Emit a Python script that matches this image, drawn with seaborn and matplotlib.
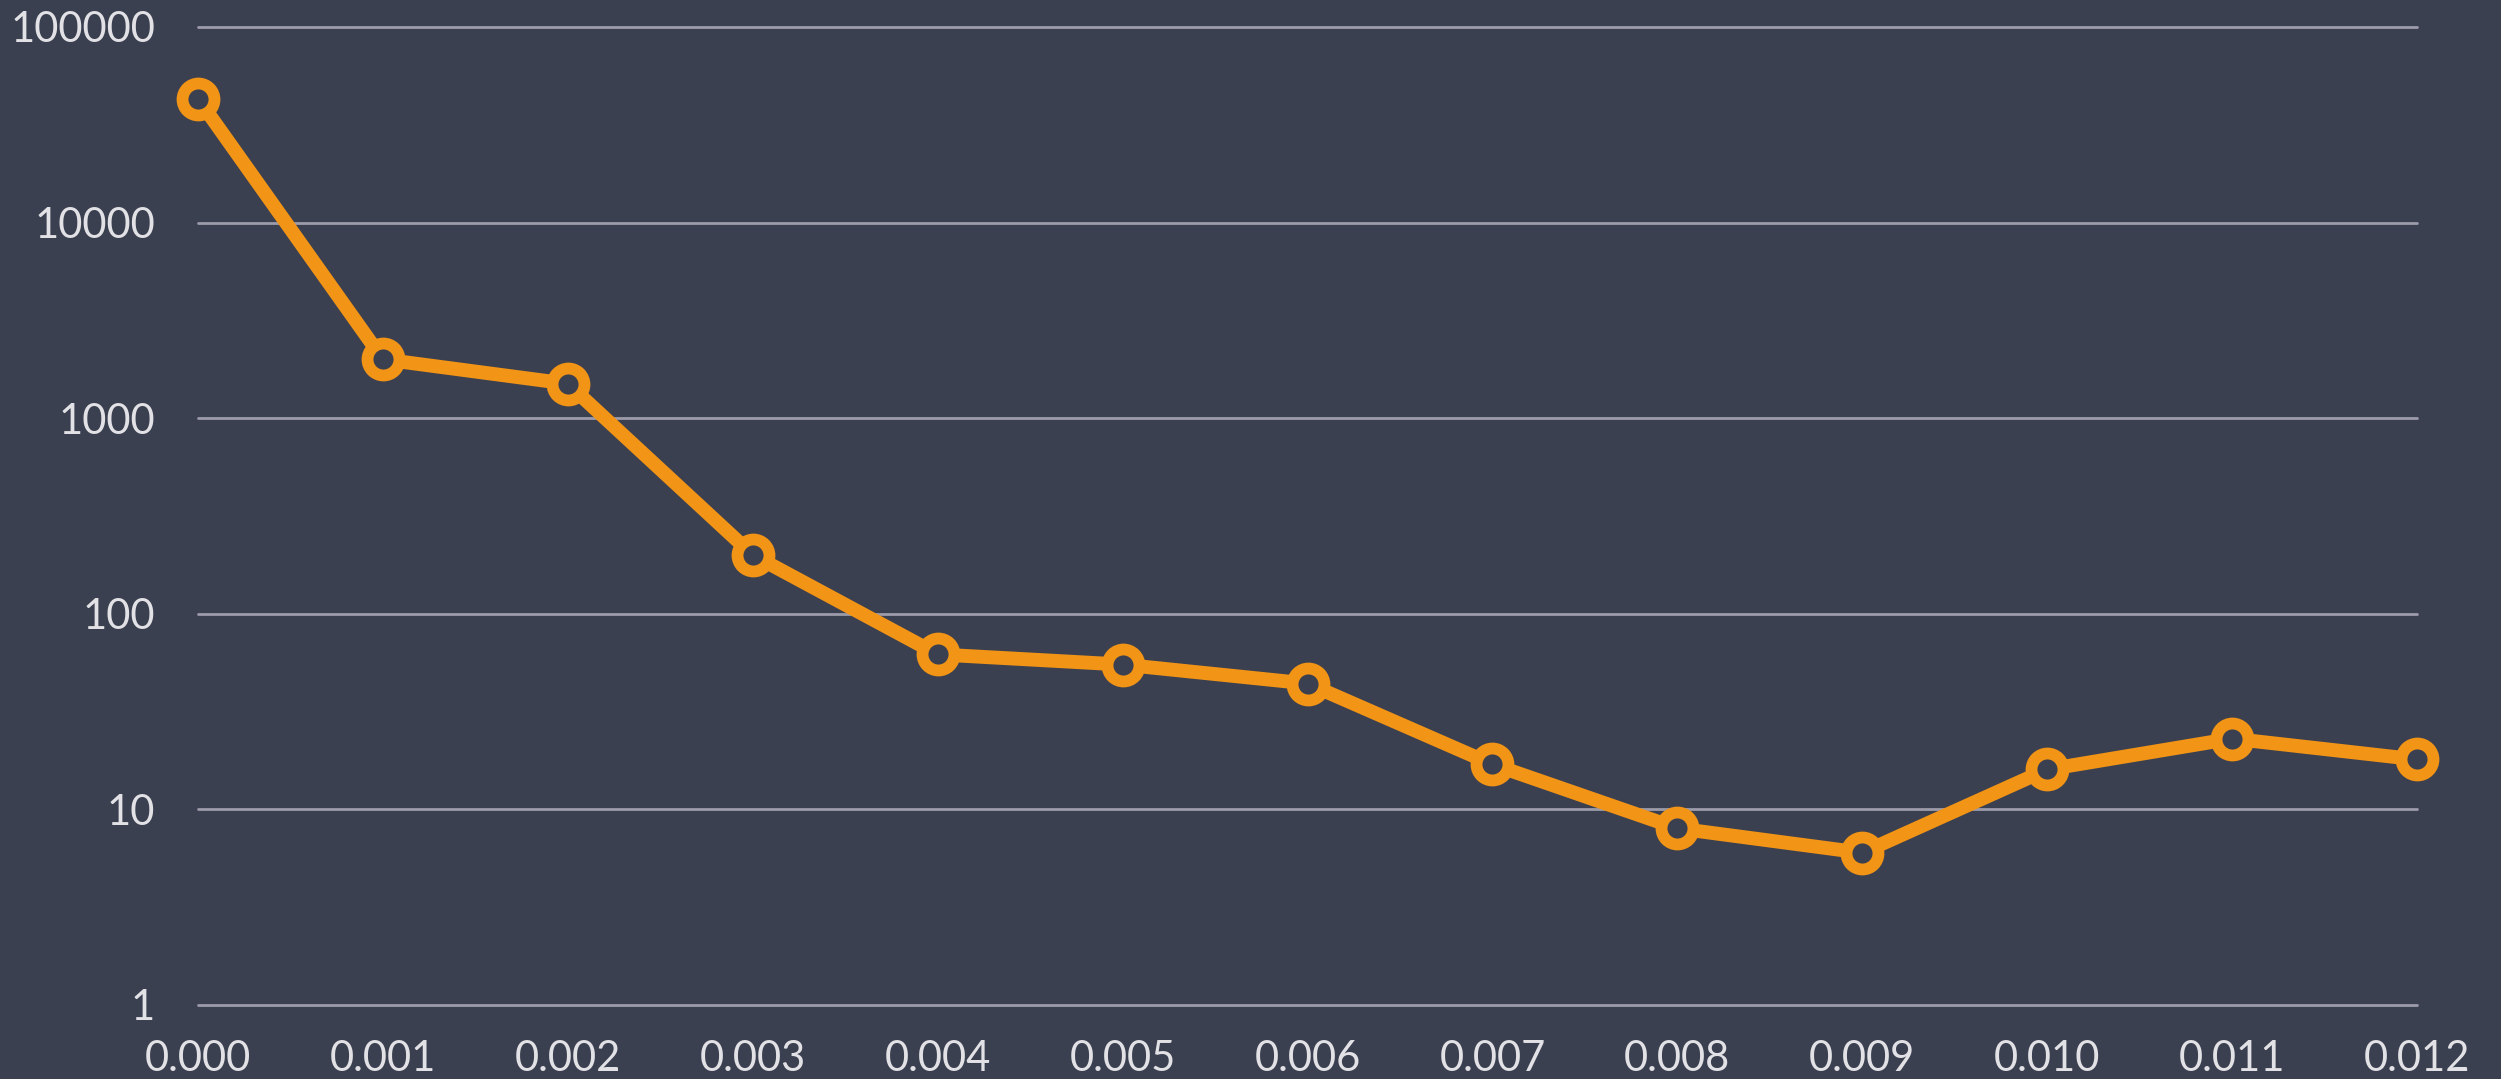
import matplotlib
matplotlib.use("Agg")
import matplotlib.pyplot as plt
import seaborn as sns
import numpy as np

# data
x_vals = [0.000, 0.001, 0.002, 0.003, 0.004, 0.005, 0.006,
          0.007, 0.008, 0.009, 0.010, 0.011, 0.012]
y_vals = [43000, 2000, 1500, 200, 62, 55, 44, 17, 8, 6, 16, 23, 18]
x_ticks = x_vals
x_tick_labels = [f"{v:.3f}" for v in x_vals]
y_ticks = [1, 10, 100, 1000, 10000, 100000]
y_tick_labels = ["1", "10", "100", "1000", "10000", "100000"]

BG = "#3b4050"
ORANGE = "#f29415"
GRID = "#9c9baa"
TEXT = "#e2e2e6"

sns.set_style("dark")
plt.rcParams["font.family"] = ["Lato", "DejaVu Sans"]

fig = plt.figure(figsize=(25.01, 10.79), dpi=100, facecolor=BG)
ax = fig.add_axes([198 / 2501, 1 - 1005 / 1079, (2417 - 198) / 2501, (1005 - 27) / 1079])
ax.set_facecolor(BG)

sns.lineplot(
    x=x_vals,
    y=y_vals,
    ax=ax,
    color=ORANGE,
    linewidth=10,
    marker="o",
    markersize=23,
    markerfacecolor=BG,
    markeredgecolor=ORANGE,
    markeredgewidth=8.5,
    clip_on=False,
    zorder=5,
)

ax.set_yscale("log")
ax.set_ylim(1, 100000)
ax.set_xlim(0, 0.012)
ax.set_yticks(y_ticks)
ax.set_yticklabels(y_tick_labels)
ax.yaxis.set_minor_locator(matplotlib.ticker.NullLocator())
ax.set_xticks(x_ticks)
ax.set_xticklabels(x_tick_labels)

ax.grid(False)
for y in y_ticks:
    ax.axhline(y, color=GRID, linewidth=2, zorder=1, clip_on=False)

for s in ax.spines.values():
    s.set_visible(False)

ax.tick_params(axis="both", length=0, colors=TEXT, labelsize=30)
ax.tick_params(axis="y", pad=31)
ax.tick_params(axis="x", pad=25)

fig.savefig("out.png", dpi=100, facecolor=BG)
